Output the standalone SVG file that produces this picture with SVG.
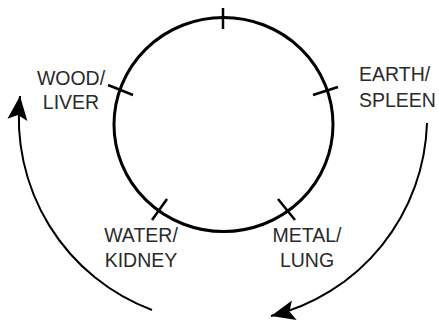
<svg xmlns="http://www.w3.org/2000/svg" width="439" height="322" viewBox="0 0 439 322">
  <style>
    .lbl { font-family: "Liberation Sans", Arial, sans-serif; font-size: 19.5px; fill: #2a2a2a; }
    .ring { fill: none; stroke: #000; stroke-width: 3; }
    .tick { stroke: #000; stroke-width: 2.5; fill: none; }
    .flow { fill: none; stroke: #000; stroke-width: 2; }
  </style>
  <defs>
    <marker id="head" markerUnits="userSpaceOnUse" markerWidth="30" markerHeight="24" refX="24" refY="11" orient="auto" viewBox="0 0 30 22">
      <path d="M24,11 L0,1 L5,11 L0,21 Z" fill="#000"/>
    </marker>
  </defs>
  <rect width="439" height="322" fill="#fff"/>
  <g id="cycle">
    <ellipse class="ring" cx="223.5" cy="124.5" rx="109.5" ry="107"/>
    <line class="tick" x1="223" y1="8" x2="223" y2="29"/>
    <line class="tick" x1="108" y1="85" x2="133" y2="95"/>
    <line class="tick" x1="313" y1="95" x2="338" y2="87"/>
    <line class="tick" x1="152" y1="220" x2="167" y2="199"/>
    <line class="tick" x1="278" y1="199" x2="295" y2="220"/>
  </g>
  <g id="wood">
    <text class="lbl" x="71" y="85" text-anchor="middle">WOOD/</text>
    <text class="lbl" x="71" y="109" text-anchor="middle">LIVER</text>
  </g>
  <g id="earth">
    <text class="lbl" x="359" y="81">EARTH/</text>
    <text class="lbl" x="359" y="107">SPLEEN</text>
  </g>
  <g id="water">
    <text class="lbl" x="141" y="242" text-anchor="middle">WATER/</text>
    <text class="lbl" x="141" y="267" text-anchor="middle">KIDNEY</text>
  </g>
  <g id="metal">
    <text class="lbl" x="307" y="242" text-anchor="middle">METAL/</text>
    <text class="lbl" x="307" y="267" text-anchor="middle">LUNG</text>
  </g>
  <g id="connectors">
    <path class="flow" d="M152,310 A205,205 0 0 1 20,96" marker-end="url(#head)"/>
    <path class="flow" d="M427,123 A205,205 0 0 1 271,316" marker-end="url(#head)"/>
  </g>
</svg>
